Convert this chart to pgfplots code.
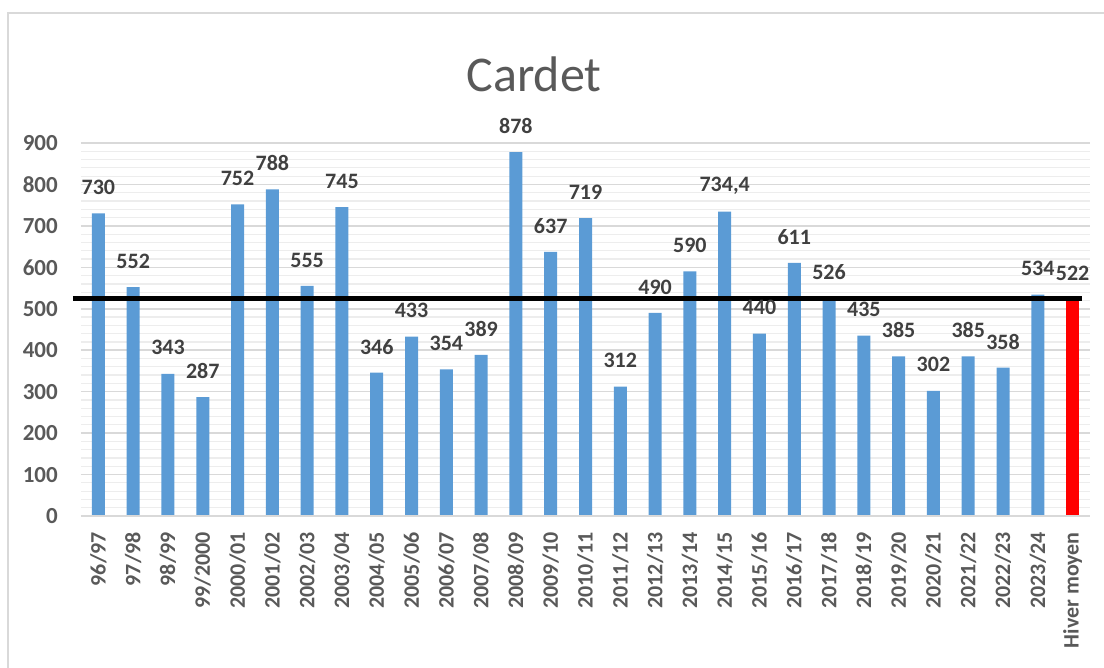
\documentclass[border=0pt]{standalone}
\usepackage{pgfplots}
\pgfplotsset{compat=1.18}
\usepackage{pgfplotstable}
\usepackage{fontspec}
\setmainfont{Carlito}
\definecolor{barblue}{HTML}{5B9BD5}
\definecolor{txtgray}{HTML}{595959}
\definecolor{valgray}{HTML}{404040}
\definecolor{gridmaj}{HTML}{D9D9D9}
\definecolor{gridmin}{HTML}{EDEDED}

% snow per winter (cm), x = category index
\pgfplotstableread{
x y lab
0 730 730
1 552 552
2 343 343
3 287 287
4 752 752
5 788 788
6 555 555
7 745 745
8 346 346
9 433 433
10 354 354
11 389 389
12 878 878
13 637 637
14 719 719
15 312 312
16 490 490
17 590 590
18 734.4 734,4
19 440 440
20 611 611
21 526 526
22 435 435
23 385 385
24 302 302
25 385 385
26 358 358
27 534 534
}\winters

\pgfplotstableread{
x y lab
28 522 522
}\mean

\begin{document}
\begin{tikzpicture}
% frame (1px = 1pt)
\draw[gridmaj, line width=2pt] (-73pt,-152pt) -- (-73pt,503pt) -- (1023pt,503pt);
\node[txtgray, font=\fontsize{50}{58}\selectfont] at (453pt,442pt) {Cardet};
\begin{axis}[
    at={(0pt,0pt)}, anchor=south west,
    scale only axis, width=1009pt, height=373pt,
    xmin=-0.5, xmax=28.5, ymin=0, ymax=900,
    clip=false,
    axis line style={draw=none},
    axis x line*=bottom,
    axis y line*=left,
    ytick={0,100,...,900},
    yticklabels={0,100,200,300,400,500,600,700,800,900},
    minor y tick num=4,
    ymajorgrids, yminorgrids,
    major grid style={gridmaj, line width=1.5pt},
    minor grid style={gridmin, line width=1.2pt},
    major tick length=0pt, minor tick length=0pt,
    xtick={0,...,28},
    xticklabels={96/97,97/98,98/99,99/2000,2000/01,2001/02,2002/03,2003/04,2004/05,2005/06,2006/07,2007/08,2008/09,2009/10,2010/11,2011/12,2012/13,2013/14,2014/15,2015/16,2016/17,2017/18,2018/19,2019/20,2020/21,2021/22,2022/23,2023/24,Hiver moyen},
    xticklabel style={txtgray, font=\fontsize{22}{26}\selectfont\bfseries, rotate=90, anchor=east, inner sep=0pt},
    yticklabel style={txtgray, font=\fontsize{23}{27}\selectfont\bfseries, anchor=east, inner sep=0pt},
    xticklabel shift=16pt,
    yticklabel shift=23pt,
    ybar, bar width=13pt, bar shift=0pt,
    point meta=explicit symbolic,
    nodes near coords,
    every node near coord/.append style={valgray, font=\fontsize{22}{26}\selectfont\bfseries, anchor=center, yshift=26pt},
]
\addplot[draw=none, fill=barblue] table[x=x, y=y, meta=lab] {\winters};
\addplot[draw=none, fill=red] table[x=x, y=y, meta=lab] {\mean};
\addplot[sharp plot, no marks, nodes near coords={}, black, line width=5pt] coordinates {(-0.73,524) (28.27,524)};
\draw[gridmaj, line width=1.5pt] (axis cs:-0.5,0) -- (axis cs:28.5,0);
\end{axis}
\pgfresetboundingbox
\path[use as bounding box] (-81pt,-152pt) rectangle (1023pt,516pt);
\end{tikzpicture}
\end{document}
